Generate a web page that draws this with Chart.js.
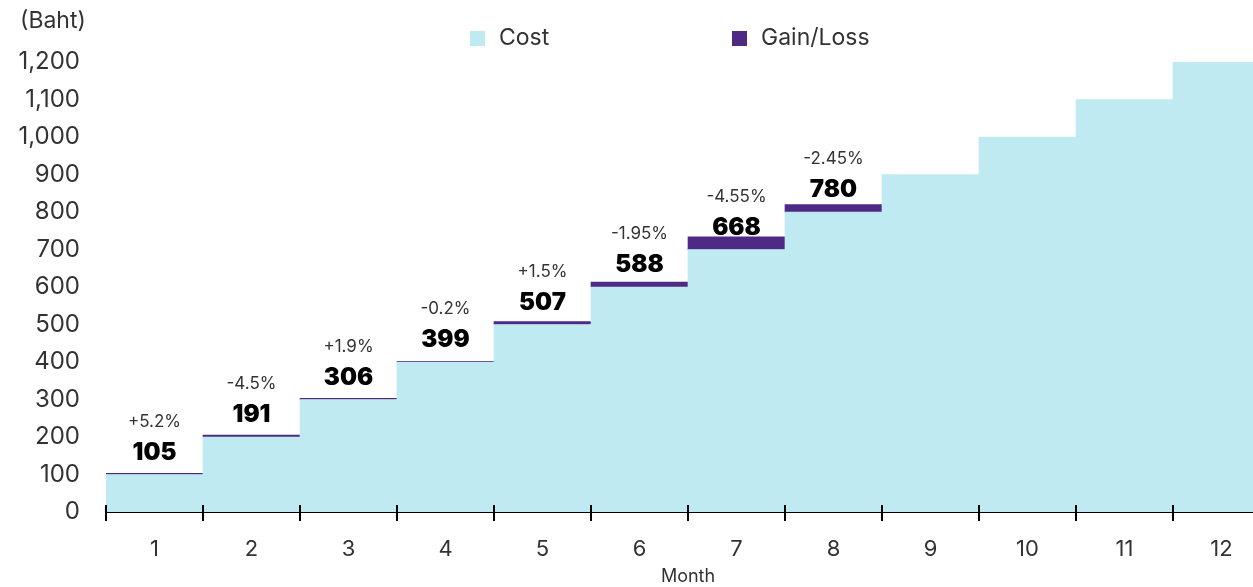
<!DOCTYPE html>
<html>
<head>
<meta charset="utf-8">
<script src="https://cdn.jsdelivr.net/npm/chart.js@4/dist/chart.umd.min.js"></script>
<style>
  html, body { margin: 0; padding: 0; background: #fff; overflow: hidden; }
  #wrap { position: relative; width: 1270px; height: 587px; }
</style>
</head>
<body>
<div id="wrap"><canvas id="chart"></canvas></div>
<script>
const months = ['1', '2', '3', '4', '5', '6', '7', '8', '9', '10', '11', '12'];
const cost = [100, 200, 300, 400, 500, 600, 700, 800, 900, 1000, 1100, 1200];
// purple segment stacked on top of cost (size of gain or loss)
const gainLoss = [3, 5, 3, 2, 8, 13, 34, 20, null, null, null, null];
const portValue = [105, 191, 306, 399, 507, 588, 668, 780];
const pctChange = ['+5.2%', '-4.5%', '+1.9%', '-0.2%', '+1.5%', '-1.95%', '-4.55%', '-2.45%'];

const COLORS = {
  cost: '#bfeaf1',
  gain: '#4e2a84',
  text: '#333333',
};

const FONT = 'Inter, "Noto Sans", sans-serif';

const extras = {
  id: 'extras',
  afterDatasetsDraw(chart) {
    const { ctx } = chart;
    const x = chart.scales.x;
    const y = chart.scales.y;
    ctx.save();

    // tick marks crossing the x axis at category boundaries
    ctx.strokeStyle = '#000';
    ctx.lineWidth = 2;
    const y0 = y.getPixelForValue(0);
    for (let i = 0; i <= months.length; i++) {
      const px = Math.round(x.getPixelForValue(i - 0.5));
      ctx.beginPath();
      ctx.moveTo(px, y0 - 7);
      ctx.lineTo(px, y0);
      ctx.stroke();
    }

    // value and percent labels
    ctx.textAlign = 'center';
    ctx.textBaseline = 'middle';
    portValue.forEach((v, i) => {
      const px = x.getPixelForValue(i);
      const vy = y.getPixelForValue(cost[i]) - 22;
      ctx.fillStyle = '#000';
      ctx.font = `900 24px ${FONT}`;
      ctx.fillText(String(v), px, vy);
      ctx.fillStyle = COLORS.text;
      ctx.font = `400 17px ${FONT}`;
      ctx.fillText(pctChange[i], px, vy - 31);
    });

    // unit label
    ctx.textAlign = 'left';
    ctx.fillStyle = COLORS.text;
    ctx.font = `400 23px ${FONT}`;
    ctx.fillText('(Baht)', 20, 21);

    // legend
    const items = [
      { label: chart.data.datasets[0].label, color: COLORS.cost, x: 470 },
      { label: chart.data.datasets[1].label, color: COLORS.gain, x: 732 },
    ];
    ctx.font = `400 23px ${FONT}`;
    items.forEach(it => {
      ctx.fillStyle = it.color;
      ctx.fillRect(it.x, 31, 15, 15);
      ctx.fillStyle = COLORS.text;
      ctx.fillText(it.label, it.x + 29, 38);
    });
    ctx.restore();
  },
};

new Chart(document.getElementById('chart'), {
  type: 'bar',
  data: {
    labels: months,
    datasets: [
      { label: 'Cost', data: cost, backgroundColor: COLORS.cost, barPercentage: 1, categoryPercentage: 1, borderWidth: 0 },
      { label: 'Gain/Loss', data: gainLoss, backgroundColor: COLORS.gain, barPercentage: 1, categoryPercentage: 1, borderWidth: 0 },
    ],
  },
  options: {
    responsive: true,
    maintainAspectRatio: false,
    animation: false,
    layout: { padding: { top: 62, left: 0, right: 0, bottom: 0 } },
    plugins: {
      legend: { display: false },
      tooltip: { enabled: false },
    },
    scales: {
      x: {
        stacked: true,
        grid: { display: true, drawOnChartArea: false, drawTicks: true, tickLength: 9, color: '#000', lineWidth: 2 },
        border: { display: true, color: '#000', width: 2 },
        ticks: { color: COLORS.text, font: { family: FONT, size: 22 }, padding: 15, maxRotation: 0 },
        title: { display: true, text: 'Month', color: COLORS.text, font: { family: FONT, size: 18 }, padding: { top: 0, bottom: 0 } },
        afterFit: s => { s.height = 75; },
      },
      y: {
        stacked: true,
        min: 0,
        max: 1200,
        grid: { display: false, drawTicks: false },
        border: { display: false },
        ticks: {
          stepSize: 100,
          color: COLORS.text,
          font: { family: FONT, size: 24 },
          padding: 26,
          callback: v => v.toLocaleString('en-US'),
        },
        afterFit: s => { s.width = 106; },
      },
    },
  },
  plugins: [extras],
});
</script>
</body>
</html>
